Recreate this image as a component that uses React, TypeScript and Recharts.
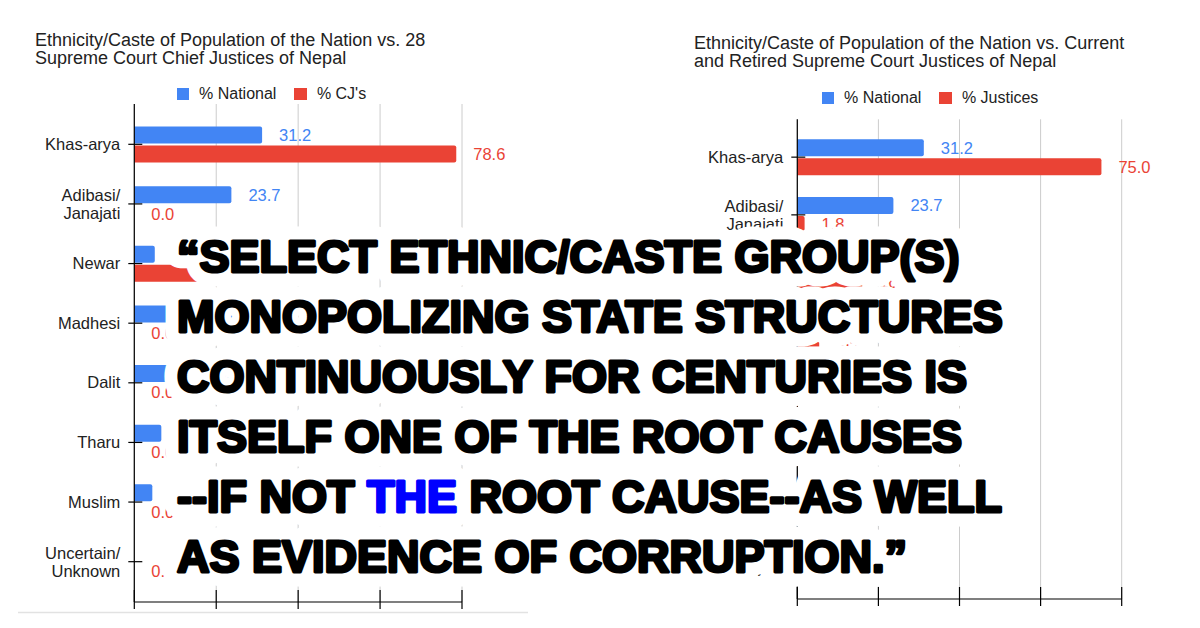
import React from 'react';
import { BarChart, Bar, XAxis, YAxis, CartesianGrid, LabelList, Legend } from 'recharts';

const groups = [
  'Khas-arya',
  'Adibasi/\nJanajati',
  'Newar',
  'Madhesi',
  'Dalit',
  'Tharu',
  'Muslim',
  'Uncertain/\nUnknown',
];

// % of national population (no figure shown for uncertain/unknown)
const nationalPct = [31.2, 23.7, 5.0, 15.3, 13.8, 6.6, 4.4, null];
// % of the 28 chief justices
const chiefJusticePct = [78.6, 0.0, 21.4, 0.0, 0.0, 0.0, 0.0, 0.0];
// % of current and retired justices (rows below Adibasi are hidden by the quote)
const justicePct = [75.0, 1.8, 16.0, 5.4, 0.0, 0.0, 0.0, 1.8];

const valueTicks = [0, 20, 40, 60, 80];

const leftTitle = [
  'Ethnicity/Caste of Population of the Nation vs. 28',
  'Supreme Court Chief Justices of Nepal',
];
const rightTitle = [
  'Ethnicity/Caste of Population of the Nation vs. Current',
  'and Retired Supreme Court Justices of Nepal',
];

// [text, highlighted]
const quoteLines: [string, boolean][][] = [
  [['\u201CSELECT ETHNIC/CASTE GROUP(S)', false]],
  [['MONOPOLIZING STATE STRUCTURES', false]],
  [['CONTINUOUSLY FOR CENTURIES IS', false]],
  [['ITSELF ONE OF THE ROOT CAUSES', false]],
  [['--IF NOT ', false], ['THE', true], [' ROOT CAUSE--AS WELL', false]],
  [['AS EVIDENCE OF CORRUPTION.\u201D', false]],
];

const BLUE = '#4285F4';
const RED = '#EA4335';
const FONT = "'Liberation Sans', Arial, sans-serif";

const leftData = groups.map((g, i) => ({ group: g, national: nationalPct[i], share: chiefJusticePct[i] }));
const rightData = groups.map((g, i) => ({ group: g, national: nationalPct[i], share: justicePct[i] }));

const CategoryTick = (props: any) => {
  const { x, y, payload } = props;
  const lines = String(payload.value).split('\n');
  const first = lines.length === 1 ? 5.5 : -3;
  return (
    <g>
      <line x1={x - 6} x2={x + 8} y1={y} y2={y} stroke="#000" strokeWidth={1.2} />
      <text x={x - 14} y={y + first} textAnchor="end" fontSize={16.5} fill="#222" fontFamily={FONT}>
        {lines.map((l, i) => (
          <tspan key={i} x={x - 14} dy={i === 0 ? 0 : 18}>
            {l}
          </tspan>
        ))}
      </text>
    </g>
  );
};

const ValueTick = (props: any) => (
  <line x1={props.x} x2={props.x} y1={props.y - 12} y2={props.y + 7} stroke="#000" strokeWidth={1.2} />
);

const valueLabel = (color: string) => (props: any) => {
  const { x, y, width, height, value } = props;
  if (value == null) return null;
  const len = Number(value) === 0 ? 0 : Number(width);
  return (
    <text
      x={Number(x) + len + 17}
      y={Number(y) + Number(height) / 2}
      dy="0.36em"
      fill={color}
      fontSize={16.5}
      fontFamily={FONT}
    >
      {Number(value).toFixed(1)}
    </text>
  );
};

const legendContent = (shareName: string) => () => (
  <div style={{ display: 'flex', alignItems: 'center', height: 20, fontFamily: FONT, fontSize: 16, color: '#222' }}>
    <span style={{ width: 12.5, height: 12.5, background: BLUE, marginRight: 10 }} />
    <span style={{ marginRight: 18, whiteSpace: 'nowrap' }}>% National</span>
    <span style={{ width: 12.5, height: 12.5, background: RED, marginRight: 10 }} />
    <span style={{ whiteSpace: 'nowrap' }}>{shareName}</span>
  </div>
);

interface PanelProps {
  data: any[];
  shareName: string;
  width: number;
  margin: { top: number; right: number; bottom: number; left: number };
  axisWidth: number;
  catPad: number;
  legendAt: { left: number; top: number };
}

function Panel({ data, shareName, width, margin, axisWidth, catPad, legendAt }: PanelProps) {
  return (
    <BarChart layout="vertical" width={width} height={628} data={data} margin={margin} barGap={2}>
      <CartesianGrid horizontal={false} stroke="#cccccc" />
      <XAxis
        type="number"
        domain={[0, 80]}
        ticks={valueTicks}
        tick={ValueTick}
        tickSize={0}
        tickMargin={0}
        tickLine={false}
        axisLine={{ stroke: '#000', strokeWidth: 1.2 }}
        height={20}
      />
      <YAxis
        type="category"
        dataKey="group"
        width={axisWidth}
        interval={0}
        tick={CategoryTick}
        tickSize={0}
        tickMargin={0}
        tickLine={false}
        axisLine={{ stroke: '#000', strokeWidth: 1.2 }}
        padding={{ top: catPad, bottom: catPad }}
      />
      <Legend
        layout="horizontal"
        verticalAlign="middle"
        align="center"
        wrapperStyle={{ left: legendAt.left, top: legendAt.top, width: 'auto' }}
        content={legendContent(shareName)}
      />
      <Bar
        dataKey="national"
        name="% National"
        fill={BLUE}
        barSize={17}
        minPointSize={0.01}
        radius={[0, 2, 2, 0]}
        isAnimationActive={false}
      >
        <LabelList dataKey="national" content={valueLabel(BLUE)} />
      </Bar>
      <Bar
        dataKey="share"
        name={shareName}
        fill={RED}
        barSize={17}
        minPointSize={0.01}
        radius={[0, 2, 2, 0]}
        isAnimationActive={false}
      >
        <LabelList dataKey="share" content={valueLabel(RED)} />
      </Bar>
    </BarChart>
  );
}

export default function App() {
  return (
    <div style={{ position: 'absolute', left: 0, top: 0, width: 1200, height: 628, background: '#fff', overflow: 'hidden' }}>
      <div style={{ position: 'absolute', left: 0, top: 0 }}>
        <Panel
          data={leftData}
          shareName="% CJ's"
          width={540}
          margin={{ top: 104, right: 78, bottom: 6, left: 10.3 }}
          axisWidth={124}
          catPad={10.5}
          legendAt={{ left: 176.5, top: 84 }}
        />
      </div>
      <div style={{ position: 'absolute', left: 640, top: 0 }}>
        <Panel
          data={rightData}
          shareName="% Justices"
          width={560}
          margin={{ top: 119.3, right: 78.3, bottom: 9, left: 17.3 }}
          axisWidth={140}
          catPad={9}
          legendAt={{ left: 181.5, top: 88 }}
        />
      </div>
      <svg width={1200} height={628} style={{ position: 'absolute', left: 0, top: 0, pointerEvents: 'none' }}>
        <line x1={18} x2={528} y1={612.5} y2={612.5} stroke="#e2e2e2" strokeWidth={1.5} />
        {leftTitle.map((t, i) => (
          <text key={'lt' + i} x={35} y={46 + i * 18} fontSize={18} fill="#222" fontFamily={FONT}>
            {t}
          </text>
        ))}
        {rightTitle.map((t, i) => (
          <text key={'rt' + i} x={694} y={49.3 + i * 18} fontSize={18} fill="#222" fontFamily={FONT}>
            {t}
          </text>
        ))}
        <g fontFamily={FONT} fontWeight={700} fontSize={45} style={{ whiteSpace: 'pre' }}>
          {quoteLines.map((segs, i) => (
            <text
              key={'h' + i}
              x={177}
              y={272 + i * 60}
              fill="#fff"
              stroke="#fff"
              strokeWidth={29}
              strokeLinejoin="round"
            >
              {segs.map(([s], j) => (
                <tspan key={j}>{s}</tspan>
              ))}
            </text>
          ))}
          {quoteLines.map((segs, i) => (
            <text key={'q' + i} x={177} y={272 + i * 60} strokeWidth={3} strokeLinejoin="round">
              {segs.map(([s, hi], j) => (
                <tspan key={j} fill={hi ? '#0000ff' : '#000'} stroke={hi ? '#0000ff' : '#000'}>
                  {s}
                </tspan>
              ))}
            </text>
          ))}
        </g>
      </svg>
    </div>
  );
}
